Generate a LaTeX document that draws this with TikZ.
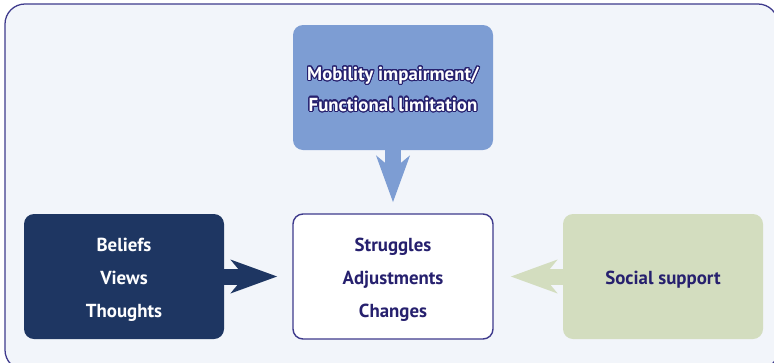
\documentclass[tikz,border=0pt]{standalone}
\usepackage{fontspec}
\setmainfont{PT Sans}
\usepackage{xcolor}
\usepackage{contour}
\usetikzlibrary{arrows, arrows.meta}

\definecolor{framebg}{RGB}{242,245,250}
\definecolor{framedraw}{RGB}{62,58,140}
\definecolor{limitblue}{RGB}{125,157,211}
\definecolor{beliefnavy}{RGB}{30,54,98}
\definecolor{supportsage}{RGB}{211,221,191}
\definecolor{textnavy}{RGB}{38,32,110}
\contourlength{0.8pt}
\contournumber{24}
\newcommand{\topstrut}{\rule{0pt}{14.2pt}}

\begin{document}
\begin{tikzpicture}[
  box/.style={rounded corners=0.25cm, minimum width=5cm, minimum height=3.125cm,
    align=center, font=\bfseries\fontsize{13.4}{23.4}\selectfont},
  fatarrow/.style={line width=0.4cm,
    -{Stealth[length=1.15cm, width=0.82cm, inset=0.33cm]}}
]
\useasboundingbox (0,0) rectangle (19.35,9.05);

\draw[framedraw, fill=framebg, rounded corners=0.5cm, line width=0.9pt] (0.125,-0.2) rectangle (19.45,8.95); %outer frame

\node[box, fill=limitblue, text=white, font=\bfseries\fontsize{13.4}{22}\selectfont] (limit) at (9.825,6.8625)
  {\rule{0pt}{12.5pt}\contour{textnavy}{Mobility impairment/}\\ \contour{textnavy}{Functional limitation}};
\node[box, fill=beliefnavy, text=white] (belief) at (3.1,2.1375) {\topstrut Beliefs\\Views\\Thoughts};
\node[box, fill=white, draw=framedraw, line width=1pt, text=textnavy] (struggle) at (9.825,2.1375)
  {\topstrut Struggles\\Adjustments\\Changes};
\node[box, fill=supportsage, text=textnavy] (support) at (16.575,2.1375) {\topstrut Social support};

\draw[fatarrow, limitblue, shorten >=0.275cm] (limit.south) -- (struggle.north);
\draw[fatarrow, beliefnavy, shorten >=0.375cm] (belief.east) -- (struggle.west);
\draw[fatarrow, supportsage, shorten >=0.425cm] (support.west) -- (struggle.east);

\end{tikzpicture}
\end{document}
